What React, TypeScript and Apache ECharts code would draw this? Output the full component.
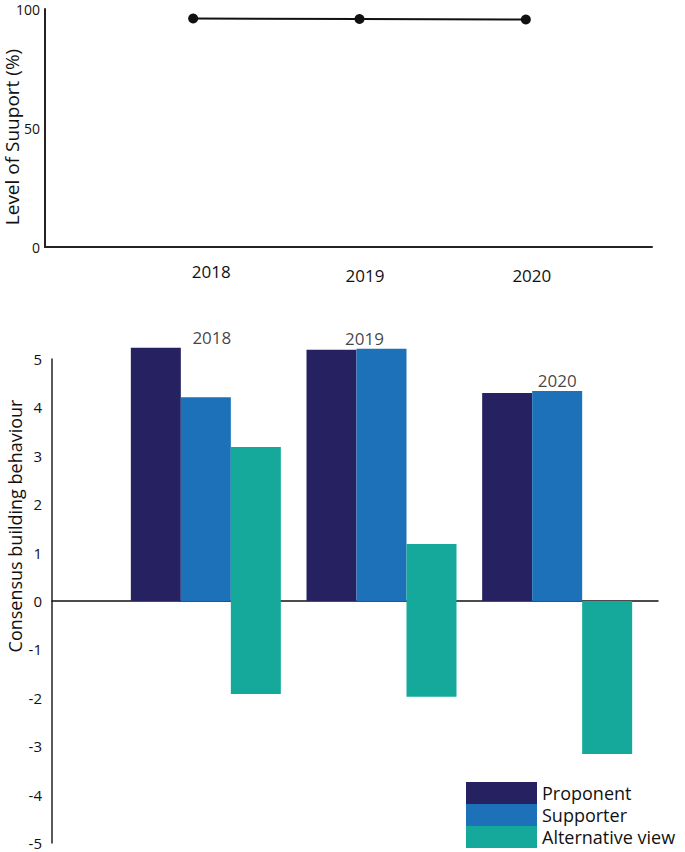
import React, { useEffect, useRef } from "react";
import * as echarts from "echarts";

const years = ["2018", "2019", "2020"];
const supportLevel = [96, 95.8, 95.6];

const proponent = [5.23, 5.19, 4.3];
const supporter = [4.21, 5.21, 4.34];
const altHigh = [3.18, 1.18, 0];
const altLow = [-1.92, -1.98, -3.16];

const FONT = "Open Sans";
const C_PROP = "#262262";
const C_SUP = "#1d71b8";
const C_ALT = "#14a99a";
const TXT = "#111";

export default function App() {
  const ref = useRef<HTMLDivElement>(null);
  useEffect(() => {
    if (!ref.current) return;
    const chart = echarts.init(ref.current, null, { renderer: "svg" });
    const labelY = years.map((_, i) => Math.max(proponent[i], supporter[i]) + 0.22);
    const labelOffsets = [[6, 0], [-17, 0], [0, 0]];
    const topLabelRich = ["a", "b", "c"];
    const g = { outerBoundsMode: "none", containLabel: false };
    chart.setOption({
      animation: false,
      textStyle: { fontFamily: FONT },
      grid: [
        { ...g, left: 118, right: 40, top: 359, bottom: 9 },
        { ...g, left: 52, right: 27, top: 359, bottom: 9 },
        { ...g, left: 110, right: 76, top: 9, bottom: 605 },
        { ...g, left: 45, right: 33, top: 9, bottom: 605 },
      ],
      legend: {
        data: ["Proponent", "Supporter", "Alternative view"],
        orient: "vertical",
        left: 466,
        top: 782,
        padding: 0,
        icon: "rect",
        itemWidth: 71,
        itemHeight: 22,
        itemGap: 0,
        textStyle: { fontSize: 18, color: TXT, fontFamily: FONT },
      },
      xAxis: [
        {
          type: "category",
          gridIndex: 0,
          data: years,
          axisLine: { show: false },
          axisTick: { show: false },
          axisLabel: { show: false },
        },
        {
          type: "value",
          gridIndex: 1,
          min: 0,
          max: 1,
          axisLine: { show: true, onZero: true, lineStyle: { color: "#111", width: 1.5 } },
          axisTick: { show: false },
          axisLabel: { show: false },
          splitLine: { show: false },
        },
        {
          type: "category",
          gridIndex: 2,
          data: years,
          axisLine: { show: false },
          axisTick: { show: false },
          axisLabel: {
            fontSize: 17,
            color: TXT,
            margin: 16,
            fontFamily: FONT,
            formatter: (v: string, i: number) => `{${topLabelRich[i]}|${v}}`,
            rich: {
              a: { fontSize: 17, color: TXT, fontFamily: FONT, padding: [0, 0, 0, 36] },
              b: { fontSize: 17, color: TXT, fontFamily: FONT, padding: [4, 0, 0, 11] },
              c: { fontSize: 17, color: TXT, fontFamily: FONT, padding: [4, 0, 0, 12] },
            },
          },
        },
        {
          type: "value",
          gridIndex: 3,
          min: 0,
          max: 1,
          axisLine: { show: true, lineStyle: { color: "#222", width: 2 } },
          axisTick: { show: false },
          axisLabel: { show: false },
          splitLine: { show: false },
        },
      ],
      yAxis: [
        {
          type: "value",
          gridIndex: 0,
          min: -5,
          max: 5,
          interval: 1,
          offset: 66,
          name: "Consensus building behaviour",
          nameLocation: "middle",
          nameRotate: 90,
          nameGap: 28,
          nameMoveOverlap: false,
          nameTextStyle: { fontSize: 18, color: TXT, fontFamily: FONT, padding: [0, 0, 0, 150] },
          axisLine: { show: true, lineStyle: { color: "#222", width: 1.5 } },
          axisTick: { show: false },
          splitLine: { show: false },
          axisLabel: { fontSize: 15, color: TXT, margin: 10, fontFamily: FONT },
        },
        {
          type: "value",
          gridIndex: 1,
          min: -5,
          max: 5,
          interval: 1,
          axisLine: { show: false },
          axisTick: { show: false },
          axisLabel: { show: false },
          splitLine: { show: false },
        },
        {
          type: "value",
          gridIndex: 2,
          min: 0,
          max: 100,
          interval: 50,
          offset: 65,
          name: "Level of Suuport (%)",
          nameLocation: "middle",
          nameRotate: 90,
          nameGap: 24,
          nameMoveOverlap: false,
          nameTextStyle: { fontSize: 19, color: TXT, fontFamily: FONT, padding: [0, 18, 0, 0] },
          axisLine: { show: true, lineStyle: { color: "#222", width: 2 } },
          axisTick: { show: false },
          splitLine: { show: false },
          axisLabel: { fontSize: 14, color: TXT, margin: 5, fontFamily: FONT },
        },
        {
          type: "value",
          gridIndex: 3,
          min: 0,
          max: 100,
          axisLine: { show: false },
          axisTick: { show: false },
          axisLabel: { show: false },
          splitLine: { show: false },
        },
      ],
      series: [
        {
          name: "Proponent",
          type: "bar",
          xAxisIndex: 0,
          yAxisIndex: 0,
          data: proponent,
          itemStyle: { color: C_PROP },
          barWidth: 50,
          barGap: "0%",
          clip: false,
        },
        {
          name: "Supporter",
          type: "bar",
          xAxisIndex: 0,
          yAxisIndex: 0,
          data: supporter,
          itemStyle: { color: C_SUP },
          barWidth: 50,
          barGap: "0%",
          clip: false,
        },
        {
          name: "Alternative view",
          type: "bar",
          xAxisIndex: 0,
          yAxisIndex: 0,
          stack: "alt",
          data: altHigh,
          itemStyle: { color: C_ALT },
          barWidth: 50,
          barGap: "0%",
          clip: false,
        },
        {
          name: "Alternative view",
          type: "bar",
          xAxisIndex: 0,
          yAxisIndex: 0,
          stack: "alt",
          data: altLow,
          itemStyle: { color: C_ALT },
          barWidth: 50,
          barGap: "0%",
          clip: false,
        },
        {
          name: "yearLabels",
          type: "scatter",
          xAxisIndex: 0,
          yAxisIndex: 0,
          symbolSize: 0,
          clip: false,
          silent: true,
          data: labelY.map((v, i) => ({
            value: v,
            label: { offset: labelOffsets[i] },
          })),
          label: {
            show: true,
            position: "inside",
            formatter: "{b}",
            fontSize: 17,
            color: TXT,
            fontFamily: FONT,
          },
        },
        {
          name: "Level of support",
          type: "line",
          xAxisIndex: 2,
          yAxisIndex: 2,
          data: supportLevel,
          symbol: "circle",
          symbolSize: 10,
          lineStyle: { color: "#111", width: 2 },
          itemStyle: { color: "#111" },
        },
      ],
    });
    return () => chart.dispose();
  }, []);
  return <div ref={ref} style={{ width: 685, height: 852, position: "absolute", left: 0, top: 0 }} />;
}
